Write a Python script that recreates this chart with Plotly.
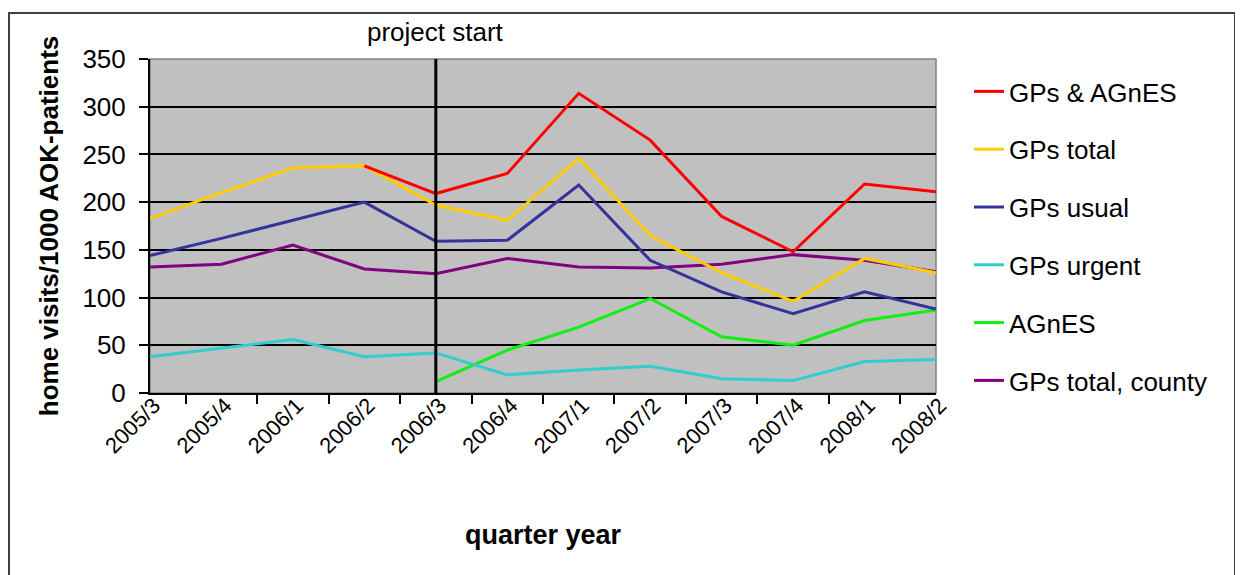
import plotly.graph_objects as go

quarters = ["2005/3", "2005/4", "2006/1", "2006/2", "2006/3", "2006/4",
            "2007/1", "2007/2", "2007/3", "2007/4", "2008/1", "2008/2"]

gps_agnes = [None, None, None, 238, 209, 230, 314, 265, 185, 148, 219, 211]
gps_total = [183, 210, 236, 238, 197, 181, 246, 165, 126, 96, 141, 126]
gps_usual = [144, 162, 181, 200, 159, 160, 218, 139, 106, 83, 106, 88]
gps_urgent = [38, 47, 56, 38, 42, 19, 24, 28, 15, 13, 33, 35]
agnes = [None, None, None, None, 12, 45, 69, 99, 59, 50, 76, 87]
gps_total_county = [132, 135, 155, 130, 125, 141, 132, 131, 135, 145, 139, 127]

series_names = ["GPs & AGnES", "GPs total", "GPs usual", "GPs urgent", "AGnES", "GPs total, county"]
series_values = [gps_agnes, gps_total, gps_usual, gps_urgent, agnes, gps_total_county]
series_colors = ["#FF0000", "#FFCC00", "#333399", "#33CCCC", "#11EE11", "#800080"]

project_start = "2006/3"
y_ticks = [0, 50, 100, 150, 200, 250, 300, 350]

FONT = "Liberation Sans, Arial, sans-serif"

fig = go.Figure()
# draw in reverse so the first series lies on top
for rank in reversed(range(len(series_names))):
    fig.add_trace(go.Scatter(
        x=quarters, y=series_values[rank], name=series_names[rank],
        mode="lines", line=dict(color=series_colors[rank], width=3),
        legendgroup=series_names[rank], legendrank=rank + 1,
        connectgaps=False,
    ))

# the page body adds an 8px offset, so the figure is drawn 8px smaller
OFF = 8
W, H = 1243 - OFF, 575 - OFF
ml, mt = 150 - OFF, 59 - OFF
mr = W - (936 - OFF)
mb = H - (393 - OFF)
pw, ph = W - ml - mr, H - mt - mb


def px_x(x):
    return (x - OFF - ml) / pw


def px_y(y):
    return (H - mb - (y - OFF)) / ph


fig.update_layout(
    width=W, height=H,
    margin=dict(l=ml, r=mr, t=mt, b=mb, autoexpand=False),
    paper_bgcolor="white",
    plot_bgcolor="#C0C0C0",
    font=dict(family=FONT, size=24, color="black"),
    showlegend=True,
    legend=dict(
        x=px_x(969), y=px_y(68), xanchor="left", yanchor="top",
        font=dict(family=FONT, size=26, color="black"),
        bgcolor="rgba(255,255,255,0)", tracegroupgap=21,
        traceorder="grouped", maxheight=600,
    ),
    xaxis=dict(
        type="category", categoryorder="array", categoryarray=quarters,
        tickson="boundaries", ticks="outside", ticklen=9, tickwidth=1.5, tickcolor="black",
        tickangle=-45, tickfont=dict(family=FONT, size=22, color="black"),
        ticklabelstandoff=-11, ticklabelshift=4,
        showline=True, linecolor="black", linewidth=2, showgrid=False,
        title=dict(text="<b>quarter year</b>", font=dict(family=FONT, size=27, color="black"), standoff=68),
    ),
    yaxis=dict(
        range=[0, 350], tickvals=y_ticks, ticks="outside", ticklen=9, tickwidth=1.5, tickcolor="black",
        tickfont=dict(family=FONT, size=26, color="black"), ticklabelstandoff=8,
        showline=True, linecolor="black", linewidth=2,
        showgrid=True, gridcolor="black", gridwidth=2, zeroline=False,
        title=dict(text="<b>home visits/1000 AOK-patients</b>", font=dict(family=FONT, size=26, color="black"), standoff=16),
    ),
    shapes=[
        # plot area frame (grey top/right edge)
        dict(type="rect", xref="paper", yref="paper", x0=0, x1=1, y0=0, y1=1,
             line=dict(color="#808080", width=1.5), layer="below"),
        # project start marker
        dict(type="line", xref="x", yref="paper", x0=project_start, x1=project_start, y0=0, y1=1,
             line=dict(color="black", width=3), layer="above"),
        # chart area border
        dict(type="rect", xref="paper", yref="paper",
             x0=px_x(9), x1=px_x(1235), y0=px_y(590), y1=px_y(13),
             line=dict(color="#404040", width=2), layer="above"),
    ],
    annotations=[
        dict(text="project start", xref="x", yref="paper", x=project_start, y=1,
             xanchor="center", yanchor="bottom", yshift=10, showarrow=False,
             font=dict(family=FONT, size=26, color="black")),
    ],
)

fig.write_html("out.html")
